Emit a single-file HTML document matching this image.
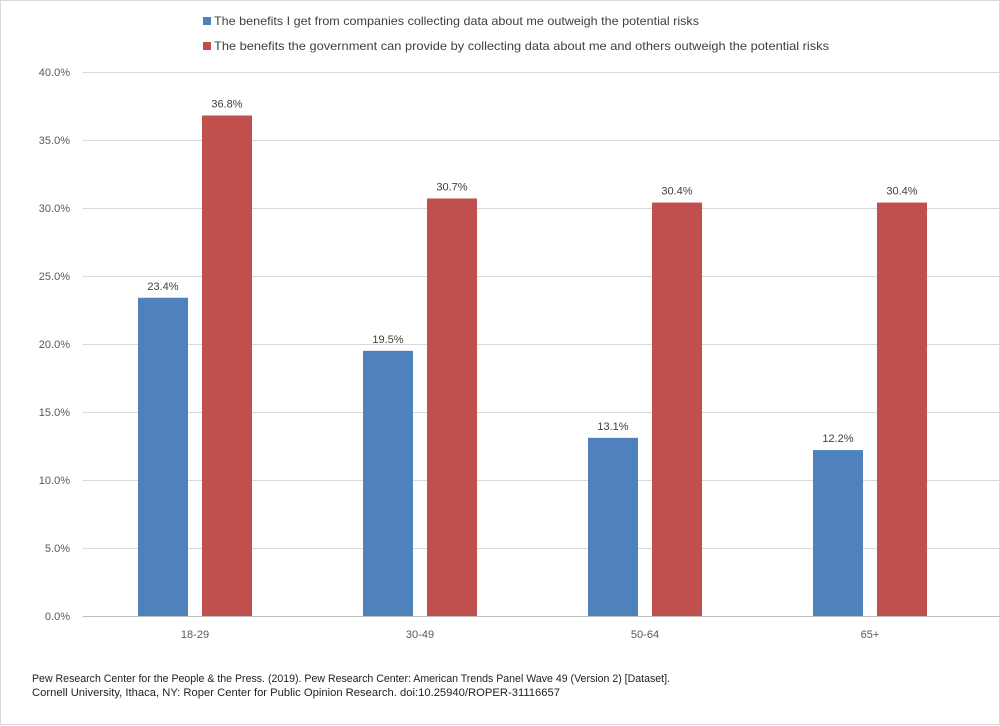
<!DOCTYPE html>
<html><head><meta charset="utf-8"><style>
html,body{margin:0;padding:0;background:#fff;}
svg{display:block;font-family:"Liberation Sans",sans-serif;}
</style></head><body>
<svg id="chart" width="1000" height="726" viewBox="0 0 1000 726">
<rect x="0.5" y="0.5" width="999" height="724" fill="#fff" stroke="#d9d9d9"/>
<g id="grid"></g><g id="bars"></g><g id="labels"></g>
<g>
<rect x="203" y="17" width="8" height="8" fill="#4f81bd"/>
<text x="214" y="25" font-size="12" fill="#404040" textLength="485" lengthAdjust="spacingAndGlyphs">The benefits I get from companies collecting data about me outweigh the potential risks</text>
<rect x="203" y="42" width="8" height="8" fill="#c0504d"/>
<text x="214" y="50" font-size="12" fill="#404040" textLength="615" lengthAdjust="spacingAndGlyphs">The benefits the government can provide by collecting data about me and others outweigh the potential risks</text>
</g>
<g font-size="11" fill="#222">
<text x="32" y="682" textLength="638" lengthAdjust="spacingAndGlyphs">Pew Research Center  for the People &amp; the Press. (2019). Pew Research Center: American Trends Panel Wave 49 (Version 2) [Dataset].</text>
<text x="32" y="696" textLength="528" lengthAdjust="spacingAndGlyphs">Cornell University, Ithaca, NY: Roper Center  for Public Opinion Research. doi:10.25940/ROPER-31116657</text>
</g>
</svg>
<script>
const categories = ["18-29","30-49","50-64","65+"];
const companies = [23.4,19.5,13.1,12.2];
const government = [36.8,30.7,30.4,30.4];
const ticks = [0,5,10,15,20,25,30,35,40];

const NS="http://www.w3.org/2000/svg";
const x0=82.5, catW=225, yBase=616, yTop=72, yMax=40;
const y=v=>yBase-(v/yMax)*(yBase-yTop);
const xc=i=>x0+catW*i+catW/2;
function mk(tag,attrs,parent,text){const e=document.createElementNS(NS,tag);for(const k in attrs)e.setAttribute(k,attrs[k]);if(text!=null)e.textContent=text;parent.appendChild(e);return e;}
const grid=document.getElementById('grid'),bars=document.getElementById('bars'),labels=document.getElementById('labels');
ticks.forEach(t=>{
  const l=mk('line',{x1:x0,x2:1000,y1:y(t)+0.5,y2:y(t)+0.5,stroke:t===0?'#bfbfbf':'#d9d9d9','stroke-width':1},grid);
  
  
  const tx=mk('text',{x:70,y:y(t)+4,'text-anchor':'end','font-size':11,fill:'#595959'},grid,t.toFixed(1)+'%');
  
  
});
categories.forEach((c,i)=>{
  const cx=xc(i);
  const tx=mk('text',{x:cx,y:638,'text-anchor':'middle','font-size':11,fill:'#595959'},labels,c);
  
  
  [[companies[i],'#4f81bd',cx-57,'bar-companies'],[government[i],'#c0504d',cx+7,'bar-government']].forEach(([v,col,bx,nm])=>{
    const r=mk('rect',{x:bx,y:y(v),width:50,height:yBase-y(v),fill:col},bars);
    
    
    const lb=mk('text',{x:bx+25,y:y(v)-8,'text-anchor':'middle','font-size':11,fill:'#404040'},labels,v.toFixed(1)+'%');
    
    
  });
});
</script>
</body></html>
